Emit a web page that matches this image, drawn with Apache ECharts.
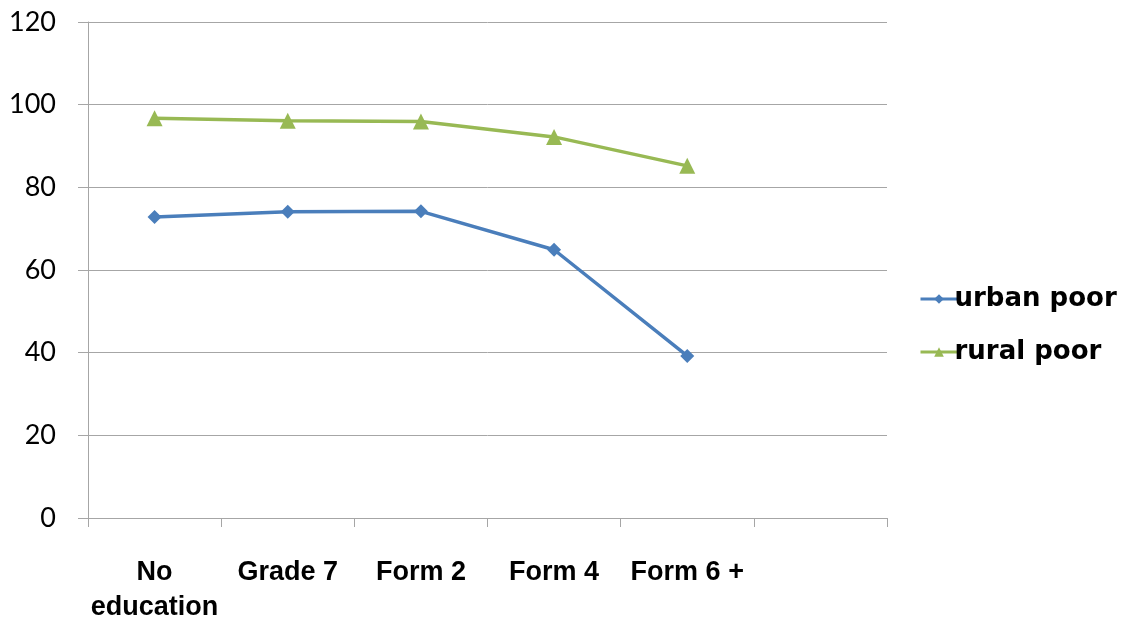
<!DOCTYPE html>
<html>
<head>
<meta charset="utf-8">
<script src="https://cdn.jsdelivr.net/npm/echarts@6/dist/echarts.min.js"></script>
<style>
  html, body { margin: 0; padding: 0; background: #ffffff; }
  #chart { width: 1126px; height: 625px; }
</style>
</head>
<body>
<div id="chart"></div>
<script>
// Education levels (last slot left empty)
const categories = ['No\neducation', 'Grade 7', 'Form 2', 'Form 4', 'Form 6 +', ''];
const urbanPoor = [72.8, 74.1, 74.2, 64.9, 39.2, null];
const ruralPoor = [96.7, 96.1, 95.9, 92.2, 85.2, null];
const yTicks = { min: 0, max: 120, interval: 20 };

const gridGray = '#a6a6a6';
const blue = '#4a7ebb';
const green = '#98b954';
const chart = echarts.init(document.getElementById('chart'));
chart.setOption({
  animation: false,
  backgroundColor: '#ffffff',
  textStyle: { fontFamily: 'Lato, "Open Sans", sans-serif' },
  grid: { left: 88, right: 239, top: 22, bottom: 106, containLabel: false },
  legend: {
    orient: 'vertical',
    left: 914,
    top: 281,
    itemGap: 27,
    itemWidth: 37,
    itemHeight: 12,
    lineStyle: { width: 3 },
    textStyle: {
      fontSize: 26,
      fontWeight: 'bold',
      color: '#000000',
      fontFamily: '"DejaVu Sans", sans-serif',
      padding: [0, 0, 0, -8]
    },
    data: ['urban poor', 'rural poor']
  },
  xAxis: {
    type: 'category',
    data: categories,
    boundaryGap: true,
    axisLine: { show: true, lineStyle: { color: gridGray, width: 1 } },
    axisTick: { show: true, interval: 0, alignWithLabel: false, length: 9, lineStyle: { color: gridGray } },
    axisLabel: {
      interval: 0,
      margin: 37,
      fontSize: 27,
      fontWeight: 'bold',
      lineHeight: 35,
      color: '#000000',
      fontFamily: '"Liberation Sans", Arial, sans-serif'
    },
    splitLine: { show: false }
  },
  yAxis: {
    type: 'value',
    min: yTicks.min,
    max: yTicks.max,
    interval: yTicks.interval,
    axisLine: { show: true, lineStyle: { color: gridGray, width: 1 } },
    axisTick: { show: true, length: 10, lineStyle: { color: gridGray } },
    axisLabel: { margin: 32, fontSize: 27, color: '#000000', fontFamily: 'Lato, sans-serif' },
    splitLine: { show: true, lineStyle: { color: gridGray, width: 1 } }
  },
  series: [
    {
      name: 'urban poor',
      type: 'line',
      data: urbanPoor,
      symbol: 'diamond',
      symbolSize: 14,
      connectNulls: false,
      lineStyle: { color: blue, width: 3.5 },
      itemStyle: { color: blue }
    },
    {
      name: 'rural poor',
      type: 'line',
      data: ruralPoor,
      symbol: 'triangle',
      symbolSize: 16,
      connectNulls: false,
      lineStyle: { color: green, width: 3.5 },
      itemStyle: { color: green }
    }
  ]
});
</script>
</body>
</html>
